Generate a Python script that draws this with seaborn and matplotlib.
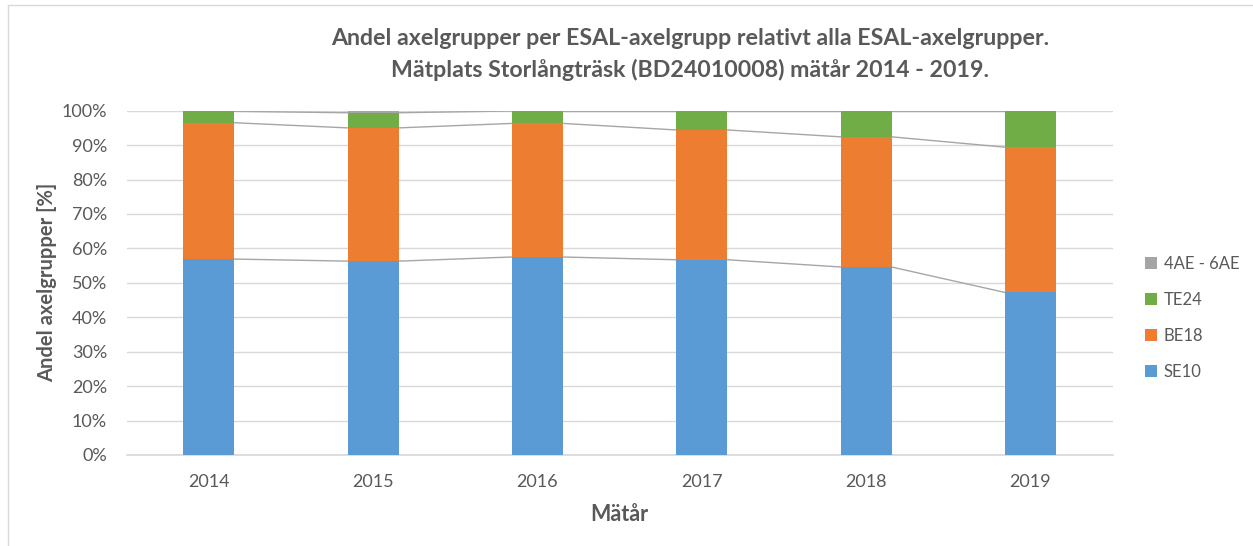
import numpy as np
import pandas as pd
import matplotlib
matplotlib.use("Agg")
import matplotlib.pyplot as plt
import seaborn as sns
from matplotlib.lines import Line2D
from matplotlib.patches import Patch

years = ["2014", "2015", "2016", "2017", "2018", "2019"]
series_names = ["SE10", "BE18", "TE24", "4AE - 6AE"]
se10 = [56.9, 56.3, 57.5, 56.7, 54.6, 47.2]
be18 = [39.6, 38.7, 38.8, 37.7, 37.8, 42.2]
te24 = [3.3, 4.4, 3.6, 5.5, 7.5, 10.5]
ae4_6 = [0.2, 0.6, 0.1, 0.1, 0.1, 0.1]
colors = ["#5B9BD5", "#ED7D31", "#70AD47", "#A5A5A5"]

title = "Andel axelgrupper per ESAL-axelgrupp relativt alla ESAL-axelgrupper.\nMätplats Storlångträsk (BD24010008) mätår 2014 - 2019."
xlabel = "Mätår"
ylabel = "Andel axelgrupper [%]"
yticks = [0, 10, 20, 30, 40, 50, 60, 70, 80, 90, 100]

sns.set_theme(style="white")
plt.rcParams["font.family"] = ["Lato", "DejaVu Sans"]
txt = "#595959"

fig = plt.figure(figsize=(12.53, 5.46), dpi=100)
ax = fig.add_axes([0.101, 0.1667, 0.787, 0.6306])

vals = np.array([se10, be18, te24, ae4_6])
cum = np.cumsum(vals, axis=0)
bw = 0.31

for i, name in enumerate(series_names):
    df = pd.DataFrame({"year": years, "top": cum[i]})
    sns.barplot(data=df, x="year", y="top", color=colors[i], width=bw,
                saturation=1, ax=ax, label=name)

# seaborn draws each series from 0; lower segments drawn on top
for i, cont in enumerate(ax.containers):
    for bar in cont:
        bar.set_zorder(10 - i)
        bar.set_edgecolor("none")

# series lines between bars
x = np.arange(len(years))
for i in range(len(series_names) - 1):
    for j in range(len(years) - 1):
        ax.plot([x[j] + bw / 2, x[j + 1] - bw / 2], [cum[i][j], cum[i][j + 1]],
                color="#A6A6A6", lw=1.0, zorder=2)

ax.set_xlim(-0.5, len(years) - 0.5)
ax.set_ylim(0, 100)
ax.set_yticks(yticks)
ax.set_yticklabels([f"{t}%" for t in yticks])
ax.yaxis.grid(True, color="#D9D9D9", lw=1, zorder=0)
ax.set_axisbelow(True)
for s in ["top", "right", "left"]:
    ax.spines[s].set_visible(False)
ax.spines["bottom"].set_color("#D9D9D9")
ax.tick_params(axis="both", length=0, labelsize=13, colors=txt)
ax.tick_params(axis="x", pad=14)
ax.tick_params(axis="y", pad=14)
ax.set_xlabel(xlabel, fontsize=15.5, fontweight="bold", color=txt, labelpad=10)
ax.set_ylabel(ylabel, fontsize=14.5, fontweight="bold", color=txt, labelpad=3)

fig.text(0.551, 0.948, title, ha="center", va="top", fontsize=16.7,
         fontweight="bold", color=txt, linespacing=1.5)

handles = [Patch(facecolor=colors[i], edgecolor="none") for i in range(len(series_names))][::-1]
leg = fig.legend(handles, series_names[::-1], loc="center left",
                 bbox_to_anchor=(0.902, 0.418), frameon=False, fontsize=12,
                 handlelength=0.7, handleheight=0.7, handletextpad=0.4,
                 labelspacing=1.2)
for t in leg.get_texts():
    t.set_color(txt)
if ax.get_legend() is not None:
    ax.get_legend().remove()

fig.add_artist(Line2D([0.0065, 0.0065], [0, 0.99], transform=fig.transFigure, color="#D9D9D9", lw=1))
fig.add_artist(Line2D([0.0065, 1], [0.99, 0.99], transform=fig.transFigure, color="#D9D9D9", lw=1))

fig.savefig("out.png", dpi=100)
